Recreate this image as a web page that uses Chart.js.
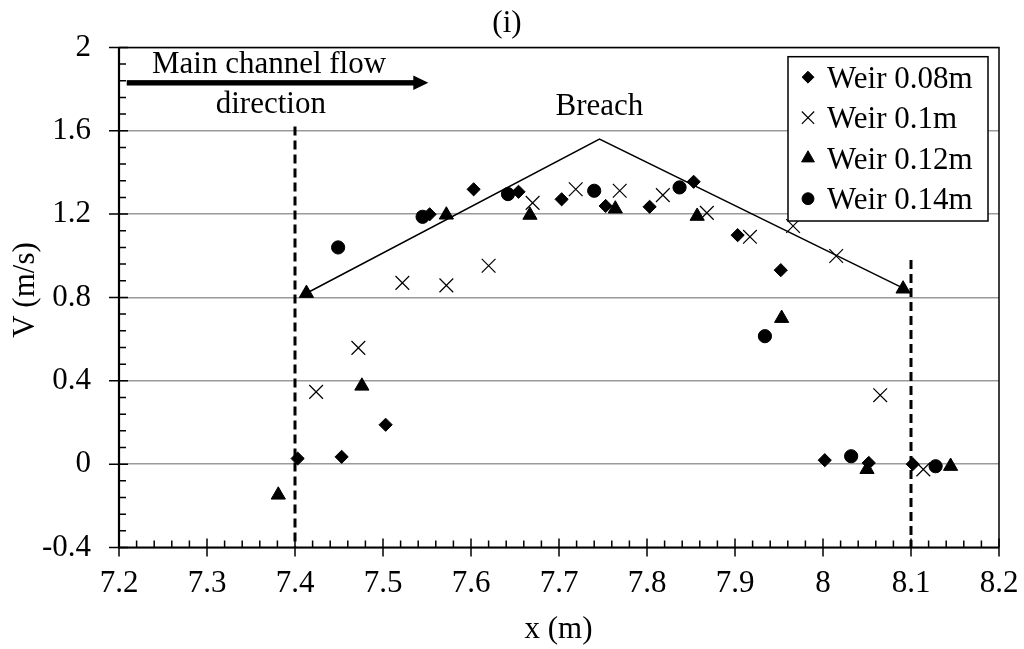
<!DOCTYPE html>
<html>
<head>
<meta charset="utf-8">
<script src="https://cdn.jsdelivr.net/npm/chart.js@4.4.0/dist/chart.umd.min.js"></script>
<style>
  html, body { margin: 0; padding: 0; background: #fff; overflow: hidden; }
  canvas { display: block; }
</style>
</head>
<body>
<canvas id="chart" width="1024" height="649"></canvas>
<script>
// Measured surface velocity V (m/s) along the channel position x (m)
const seriesLabels = ['Weir 0.08m', 'Weir 0.1m', 'Weir 0.12m', 'Weir 0.14m'];

const xWeir008 = [7.403, 7.453, 7.503, 7.553, 7.603, 7.654, 7.703, 7.753, 7.803, 7.853, 7.903, 7.952, 8.002, 8.052, 8.102];
const vWeir008 = [0.027, 0.035, 0.189, 1.199, 1.319, 1.307, 1.271, 1.239, 1.235, 1.355, 1.099, 0.931, 0.019, 0.006, 0.000];

const xWeir010 = [7.424, 7.472, 7.522, 7.572, 7.620, 7.670, 7.719, 7.769, 7.818, 7.868, 7.917, 7.966, 8.015, 8.065, 8.114];
const vWeir010 = [0.347, 0.558, 0.870, 0.858, 0.952, 1.254, 1.319, 1.312, 1.291, 1.206, 1.091, 1.143, 0.999, 0.331, -0.025];

const xWeir012 = [7.381, 7.413, 7.476, 7.572, 7.667, 7.764, 7.857, 7.953, 8.050, 8.091, 8.145];
const vWeir012 = [-0.148, 0.820, 0.375, 1.196, 1.195, 1.225, 1.190, 0.700, -0.025, 0.841, -0.010];

const xWeir014 = [7.449, 7.545, 7.642, 7.740, 7.837, 7.934, 8.032, 8.128];
const vWeir014 = [1.040, 1.187, 1.296, 1.312, 1.328, 0.614, 0.038, -0.010];

// Envelope drawn over the breach
const breachX = [7.413, 7.746, 8.091];
const breachV = [0.820, 1.560, 0.845];

// Breach limits (dashed verticals) and the height each one starts at
const boundaryX = [7.4, 8.1];
const boundaryTopV = [1.62, 0.98];

const xTicks = [7.2, 7.3, 7.4, 7.5, 7.6, 7.7, 7.8, 7.9, 8.0, 8.1, 8.2];
const yTicks = [-0.4, 0, 0.4, 0.8, 1.2, 1.6, 2];

const FAMILY = '"Liberation Serif", "Times New Roman", Times, serif';
const FONT = '31px ' + FAMILY;

const toPoints = (xs, vs) => xs.map((x, i) => ({ x: x, y: vs[i] }));
const fmt = v => String(Math.round(v * 10) / 10);

function markerPath(ctx, style, cx, cy, r) {
  ctx.beginPath();
  if (style === 'rectRot') {
    ctx.moveTo(cx - r, cy); ctx.lineTo(cx, cy - r); ctx.lineTo(cx + r, cy); ctx.lineTo(cx, cy + r); ctx.closePath();
    ctx.fill(); ctx.stroke();
  } else if (style === 'crossRot') {
    const o = Math.SQRT1_2 * r;
    ctx.moveTo(cx - o, cy - o); ctx.lineTo(cx + o, cy + o);
    ctx.moveTo(cx + o, cy - o); ctx.lineTo(cx - o, cy + o);
    ctx.stroke();
  } else if (style === 'triangle') {
    ctx.moveTo(cx, cy - r); ctx.lineTo(cx + 0.866 * r, cy + 0.5 * r); ctx.lineTo(cx - 0.866 * r, cy + 0.5 * r); ctx.closePath();
    ctx.fill(); ctx.stroke();
  } else {
    ctx.arc(cx, cy, r, 0, Math.PI * 2);
    ctx.fill(); ctx.stroke();
  }
}

const annotations = {
  id: 'annotations',
  beforeDatasetsDraw(chart) {
    const { ctx, chartArea: a, scales: { x, y } } = chart;
    ctx.save();
    ctx.strokeStyle = '#000';
    ctx.lineWidth = 3;
    ctx.setLineDash([9, 5]);
    boundaryX.forEach((bx, i) => {
      const px = x.getPixelForValue(bx);
      ctx.beginPath();
      ctx.moveTo(px, y.getPixelForValue(boundaryTopV[i]));
      ctx.lineTo(px, a.bottom);
      ctx.stroke();
    });
    ctx.restore();
  },
  afterDraw(chart) {
    const { ctx, chartArea: a, scales: { x, y } } = chart;
    ctx.save();
    ctx.strokeStyle = '#000';
    ctx.fillStyle = '#000';

    // tick marks: major ones cross the axis, minor ones sit inside
    ctx.lineWidth = 1.5;
    ctx.beginPath();
    for (let k = 0; k <= 30; k++) {
      const py = y.getPixelForValue(-0.4 + k * 0.08);
      const major = k % 5 === 0;
      ctx.moveTo(a.left - (major ? 10 : 0), py);
      ctx.lineTo(a.left + (major ? 9 : 7), py);
    }
    for (let k = 0; k <= 50; k++) {
      const px = x.getPixelForValue(7.2 + k * 0.02);
      const major = k % 5 === 0;
      ctx.moveTo(px, a.bottom + (major ? 9 : 0));
      ctx.lineTo(px, a.bottom - (major ? 9 : 7));
    }
    ctx.stroke();

    // plot frame
    ctx.lineWidth = 1.5;
    ctx.beginPath();
    ctx.moveTo(a.left, a.top); ctx.lineTo(a.right, a.top); ctx.lineTo(a.right, a.bottom);
    ctx.stroke();
    ctx.lineWidth = 2.2;
    ctx.beginPath();
    ctx.moveTo(a.left, a.top); ctx.lineTo(a.left, a.bottom); ctx.lineTo(a.right, a.bottom);
    ctx.stroke();

    // flow direction arrow
    const ay = y.getPixelForValue(1.83);
    const ax0 = x.getPixelForValue(7.2088);
    const ax1 = x.getPixelForValue(7.5515);
    ctx.fillRect(ax0, ay - 2.7, ax1 - 14 - ax0, 5.4);
    ctx.beginPath();
    ctx.moveTo(ax1, ay); ctx.lineTo(ax1 - 15, ay - 7.2); ctx.lineTo(ax1 - 15, ay + 7.2); ctx.closePath();
    ctx.fill();

    // text
    ctx.font = FONT;
    ctx.textAlign = 'center';
    ctx.textBaseline = 'alphabetic';
    ctx.fillText('Main channel flow', x.getPixelForValue(7.3705), y.getPixelForValue(1.878));
    ctx.fillText('direction', x.getPixelForValue(7.3725), y.getPixelForValue(1.686));
    ctx.fillText('Breach', x.getPixelForValue(7.746), y.getPixelForValue(1.675));
    ctx.fillText('(i)', 507, 32);
    ctx.fillText('x (m)', 558.5, 638);
    ctx.save();
    ctx.translate(34, 290);
    ctx.rotate(-Math.PI / 2);
    ctx.fillText('V (m/s)', 0, 0);
    ctx.restore();

    // legend
    const lx = 788, ly = 56.7, lw = 200, lh = 164.3;
    ctx.fillStyle = '#fff';
    ctx.fillRect(lx, ly, lw, lh);
    ctx.lineWidth = 1.5;
    ctx.strokeRect(lx, ly, lw, lh);
    ctx.textAlign = 'left';
    seriesLabels.forEach((label, i) => {
      const ds = chart.data.datasets[i];
      const base = 87.7 + i * 40.5;
      ctx.fillStyle = '#000';
      ctx.strokeStyle = '#000';
      ctx.lineWidth = ds.borderWidth;
      markerPath(ctx, ds.pointStyle, lx + 20, base - 10.5, ds.pointRadius * 0.9);
      ctx.fillText(label, lx + 39, base);
    });
    ctx.restore();
  }
};

const tickFont = { family: FAMILY, size: 31 };

new Chart(document.getElementById('chart'), {
  type: 'scatter',
  data: {
    datasets: [
      { label: seriesLabels[0], data: toPoints(xWeir008, vWeir008), pointStyle: 'rectRot', pointRadius: 6.6,
        backgroundColor: '#000', borderColor: '#000', borderWidth: 1 },
      { label: seriesLabels[1], data: toPoints(xWeir010, vWeir010), pointStyle: 'crossRot', pointRadius: 9.7,
        backgroundColor: '#000', borderColor: '#000', borderWidth: 1.2 },
      { label: seriesLabels[2], data: toPoints(xWeir012, vWeir012), pointStyle: 'triangle', pointRadius: 8.2,
        backgroundColor: '#000', borderColor: '#000', borderWidth: 1 },
      { label: seriesLabels[3], data: toPoints(xWeir014, vWeir014), pointStyle: 'circle', pointRadius: 6.6,
        backgroundColor: '#000', borderColor: '#000', borderWidth: 1 },
      { label: 'Breach', data: toPoints(breachX, breachV), showLine: true, pointRadius: 0,
        borderColor: '#000', borderWidth: 1.5, fill: false, tension: 0 }
    ]
  },
  options: {
    responsive: false,
    animation: false,
    devicePixelRatio: 1,
    layout: { padding: { top: 47.4, right: 25, bottom: 0, left: 0 } },
    plugins: { legend: { display: false }, tooltip: { enabled: false }, title: { display: false } },
    scales: {
      x: {
        type: 'linear', min: 7.2, max: 8.2,
        afterFit(s) { s.height = 101.5; s.paddingLeft = 0; s.paddingRight = 0; },
        afterBuildTicks(s) { s.ticks = xTicks.map(v => ({ value: v })); },
        grid: { display: false, drawTicks: false },
        border: { display: false },
        ticks: { font: tickFont, color: '#000', padding: 18, maxRotation: 0, autoSkip: false, callback: fmt }
      },
      y: {
        type: 'linear', min: -0.4, max: 2,
        afterFit(s) { s.width = 119; s.paddingTop = 0; s.paddingBottom = 0; },
        afterBuildTicks(s) { s.ticks = yTicks.map(v => ({ value: v })); },
        grid: { color: '#9a9a9a', lineWidth: 1.5, drawTicks: false },
        border: { display: false },
        ticks: { font: tickFont, color: '#000', padding: 28, autoSkip: false, callback: fmt }
      }
    }
  },
  plugins: [annotations]
});
</script>
</body>
</html>
